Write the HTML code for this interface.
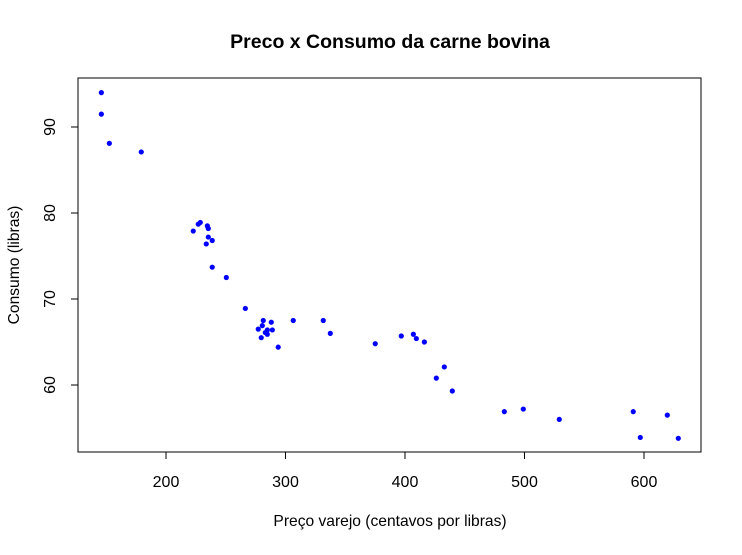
<!DOCTYPE html>
<html><head><meta charset="utf-8"><style>
body{margin:0;background:#fff}
svg text{font-family:"Liberation Sans",Arial,sans-serif;fill:#000}
</style></head><body>
<svg id="chart" width="742" height="550">
<rect width="742" height="550" fill="#fff"/>
<text x="390" y="48" text-anchor="middle" font-size="19.5" font-weight="bold">Preco x Consumo da carne bovina</text>
<rect x="78" y="78" width="623" height="374" fill="none" stroke="#000" stroke-width="1"/>
<g id="xaxis"></g>
<g id="yaxis"></g>
<g id="points"></g>
<text x="390" y="526" text-anchor="middle" font-size="15.6">Preço varejo (centavos por libras)</text>
<text transform="translate(19,265) rotate(-90)" text-anchor="middle" font-size="15.6">Consumo (libras)</text>
</svg>
<script>
const xTicks=[200,300,400,500,600];
const yTicks=[60,70,80,90];
const preco=[145.9,145.9,152.6,179.3,222.8,227.0,228.7,234.6,235.4,235.4,238.7,233.7,238.7,250.5,266.4,281.4,288.1,280.6,277.2,284.8,289.0,283.1,284.8,279.7,293.9,306.5,331.6,337.5,375.1,396.9,407.0,409.5,416.2,432.9,426.2,439.6,483.1,499.0,529.1,591.0,596.9,619.5,628.7];
const consumo=[94.0,91.5,88.1,87.1,77.9,78.7,78.9,78.5,78.2,77.2,76.8,76.4,73.7,72.5,68.9,67.5,67.3,66.9,66.5,66.4,66.4,66.1,65.9,65.5,64.4,67.5,67.5,66.0,64.8,65.7,65.9,65.4,65.0,62.1,60.8,59.3,56.9,57.2,56.0,56.9,53.9,56.5,53.8];
const NS='http://www.w3.org/2000/svg';
function sx(v){return 405+(v-400)*1.195;}
function sy(v){return 127-(v-90)*8.6;}
function mk(t,a){const e=document.createElementNS(NS,t);for(const k in a)e.setAttribute(k,a[k]);return e;}
const xa=document.getElementById('xaxis'),ya=document.getElementById('yaxis'),pg=document.getElementById('points');
xa.appendChild(mk('line',{x1:sx(200),x2:sx(600),y1:452,y2:452,stroke:'#000'}));
xTicks.forEach(v=>{
 const l=mk('line',{x1:sx(v),x2:sx(v),y1:452,y2:459,stroke:'#000'});
 
 
 xa.appendChild(l);
 const t=mk('text',{x:sx(v),y:487,'text-anchor':'middle','font-size':'16'});
 t.textContent=v;
 
 
 xa.appendChild(t);
});
ya.appendChild(mk('line',{x1:78,x2:78,y1:sy(60),y2:sy(90),stroke:'#000'}));
yTicks.forEach(v=>{
 const l=mk('line',{x1:71,x2:78,y1:sy(v),y2:sy(v),stroke:'#000'});
 
 
 ya.appendChild(l);
 const t=mk('text',{transform:`translate(55,${sy(v)}) rotate(-90)`,'text-anchor':'middle','font-size':'16'});
 t.textContent=v;
 
 
 ya.appendChild(t);
});
preco.forEach((p,i)=>{
 const c=mk('circle',{cx:sx(p),cy:sy(consumo[i]),r:2.6,fill:'#0000ff'});
 
 
 pg.appendChild(c);
});
</script>
</body></html>
